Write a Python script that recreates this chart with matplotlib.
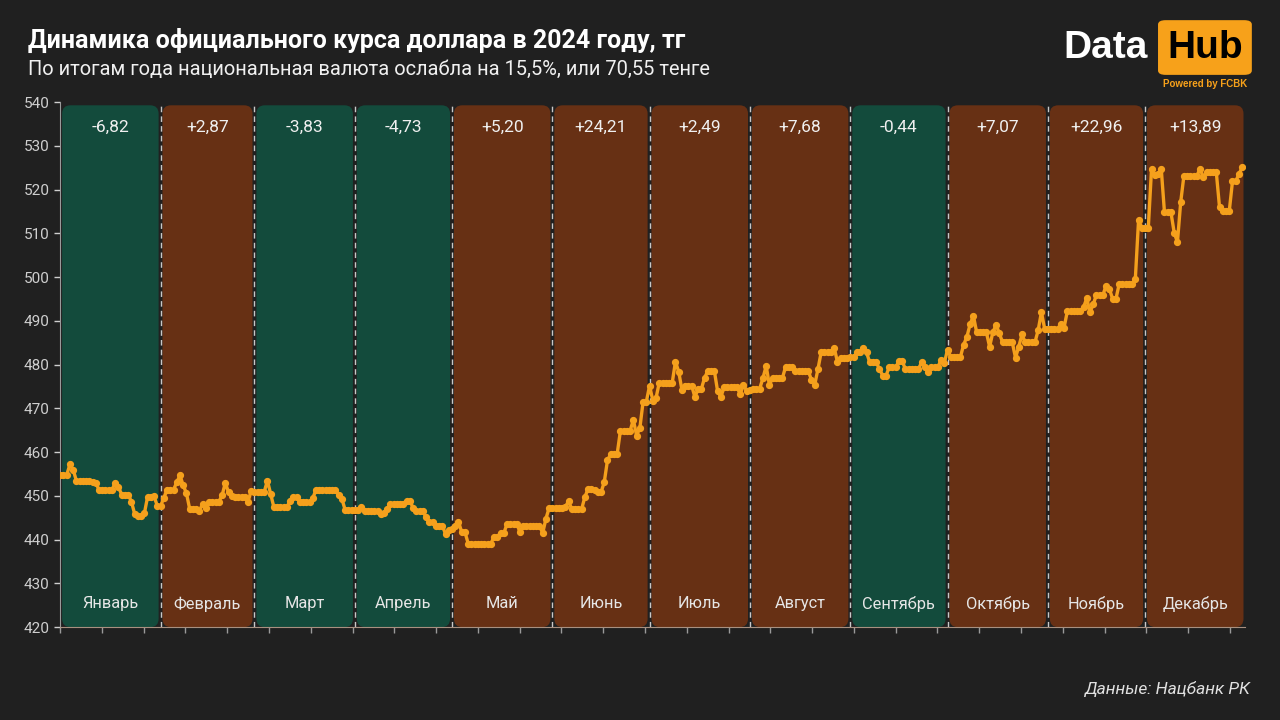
import numpy as np
import matplotlib.pyplot as plt
from matplotlib.patches import FancyBboxPatch
from matplotlib.ticker import MultipleLocator

plt.rcParams['font.family'] = ['Roboto', 'DejaVu Sans']

months = ['Январь', 'Февраль', 'Март', 'Апрель', 'Май', 'Июнь',
          'Июль', 'Август', 'Сентябрь', 'Октябрь', 'Ноябрь', 'Декабрь']
changes = ['-6,82', '+2,87', '-3,83', '-4,73', '+5,20', '+24,21',
           '+2,49', '+7,68', '-0,44', '+7,07', '+22,96', '+13,89']

# daily official USD/KZT rate
jan = [454.7, 454.7, 454.7, 457.2, 456.0, 453.5, 453.5, 453.5, 453.4, 453.3,
       453.2, 453.0, 451.4, 451.4, 451.4, 451.4, 451.4, 453.0, 452.0, 450.3,
       450.3, 450.3, 448.7, 445.9, 445.3, 445.3, 446.0, 449.8, 449.8, 449.9, 447.7]
feb = [447.7, 449.5, 451.4, 451.4, 451.4, 453.1, 454.7, 452.4, 450.6, 447.0,
       447.0, 447.0, 446.6, 448.2, 447.2, 448.5, 448.7, 448.7, 448.7, 450.1,
       453.0, 450.8, 450.0, 449.8, 449.8, 449.8, 449.8, 448.7, 451.2]
mar = [450.8, 450.8, 450.8, 450.9, 453.5, 450.5, 447.4, 447.4, 447.4, 447.4,
       447.4, 448.9, 449.8, 449.8, 448.5, 448.5, 448.5, 448.5, 449.5, 451.4,
       451.4, 451.4, 451.4, 451.4, 451.4, 451.4, 450.2, 449.3, 446.8, 446.8, 446.8]
apr = [446.8, 446.8, 447.5, 446.5, 446.5, 446.5, 446.5, 446.5, 445.9, 446.0,
       447.0, 448.2, 448.2, 448.2, 448.2, 448.2, 448.9, 448.9, 447.2, 446.5,
       446.5, 446.5, 445.1, 444.1, 444.1, 443.2, 443.2, 443.2, 441.3, 442.1]
may = [442.5, 443.2, 444.1, 441.7, 441.7, 439.1, 439.1, 439.1, 439.1, 439.1,
       439.1, 439.1, 439.1, 440.7, 440.7, 441.5, 441.5, 443.6, 443.6, 443.6,
       443.6, 441.7, 443.2, 443.2, 443.2, 443.2, 443.2, 443.2, 441.5, 444.8, 447.3]
jun = [447.3, 447.3, 447.3, 447.3, 447.5, 448.8, 446.9, 446.9, 446.9, 446.9,
       449.7, 451.6, 451.6, 451.3, 450.8, 450.8, 453.1, 458.1, 459.6, 459.6,
       459.6, 464.9, 464.9, 464.9, 464.9, 467.4, 463.8, 465.5, 471.5, 471.5]
jul = [475.2, 471.8, 472.4, 475.9, 475.9, 475.9, 475.9, 475.9, 480.7, 478.4,
       474.2, 475.2, 475.2, 475.2, 472.6, 474.5, 474.5, 477.0, 478.6, 478.6,
       478.6, 474.0, 472.6, 474.8, 474.8, 474.8, 474.8, 474.8, 473.3, 475.4, 474.0]
aug = [474.2, 474.5, 474.5, 474.5, 476.9, 479.7, 475.4, 476.9, 476.9, 476.9,
       476.9, 479.5, 479.5, 479.5, 478.6, 478.6, 478.6, 478.6, 478.6, 476.5,
       475.4, 479.0, 482.9, 482.9, 482.9, 482.9, 483.9, 480.7, 481.6, 481.6, 481.6]
sep = [481.7, 481.7, 482.8, 482.8, 483.8, 482.8, 480.5, 480.5, 480.5, 479.0,
       477.5, 477.5, 479.4, 479.4, 479.4, 480.8, 480.8, 479.0, 479.0, 479.0,
       479.0, 479.0, 480.5, 479.4, 478.4, 479.4, 479.4, 479.4, 481.1, 480.3]
octo = [483.4, 481.8, 481.8, 481.8, 481.8, 484.6, 486.4, 489.3, 491.2, 487.4,
        487.4, 487.4, 487.4, 484.1, 487.4, 489.1, 487.2, 485.1, 485.1, 485.1,
        485.1, 481.6, 484.1, 486.9, 485.1, 485.1, 485.1, 485.1, 487.9, 492.0, 488.2]
nov = [488.1, 488.1, 488.1, 488.1, 489.4, 488.5, 492.2, 492.2, 492.2, 492.2,
       492.2, 493.1, 495.2, 492.0, 493.8, 496.0, 496.0, 496.0, 498.1, 497.3,
       495.0, 495.0, 498.4, 498.4, 498.4, 498.4, 498.4, 499.6, 513.1, 511.2]
dec = [511.2, 511.2, 524.7, 523.4, 523.5, 524.8, 514.8, 514.8, 514.8, 510.2,
       508.0, 517.1, 523.2, 523.2, 523.2, 523.2, 523.2, 524.8, 522.8, 524.0,
       524.0, 524.0, 524.0, 516.0, 515.1, 515.1, 515.1, 521.9, 521.9, 523.6, 525.1]

month_data = [jan, feb, mar, apr, may, jun, jul, aug, sep, octo, nov, dec]
rates = np.array(sum(month_data, []))
x = np.arange(len(rates))
starts = np.concatenate([[0], np.cumsum([len(m) for m in month_data])])

bg = '#202020'
green = '#134b3c'
brown = '#673014'
orange = '#f5a01c'

fig = plt.figure(figsize=(12.8, 7.2), dpi=100, facecolor=bg)
ax = fig.add_axes([0.047, 0.129, 0.926, 0.729], facecolor=bg)
ax.set_xlim(0, starts[-1])
ax.set_ylim(420, 540)

# month bands with rounded corners
aspect = (120 / 525) / (starts[-1] / 1185)
gap = 0.6
for i in range(12):
    x0, x1 = starts[i] + gap, starts[i + 1] - gap
    col = green if changes[i].startswith('-') else brown
    box = FancyBboxPatch((x0, 420), x1 - x0, 539.3 - 420,
                         boxstyle='round,pad=0,rounding_size=2.6',
                         mutation_aspect=aspect, fc=col, ec='none', zorder=1)
    ax.add_patch(box)
    xc = (starts[i] + starts[i + 1]) / 2
    ax.text(xc, 534.2, changes[i], ha='center', va='center', color='#f0f0f0',
            fontsize=12.5, zorder=4)
    ax.text(xc, 425.3, months[i], ha='center', va='center', color='#e6e6e6',
            fontsize=11.8, zorder=4)

for s in starts[1:-1]:
    ax.axvline(s, color='#c8c8c8', lw=1, ls=(0, (4, 3)), zorder=2)

ax.plot(x, rates, color=orange, lw=2.4, marker='o', ms=4.2, zorder=3)

ax.yaxis.set_major_locator(MultipleLocator(10))
ax.xaxis.set_major_locator(MultipleLocator(12.9))
ax.tick_params(axis='x', labelbottom=False, color='#9a9a9a', length=4, width=1)
ax.tick_params(axis='y', colors='#cfcfcf', labelsize=11, length=4, width=1)
for side in ['top', 'right']:
    ax.spines[side].set_visible(False)
ax.spines['left'].set_color('#9a9a9a')
ax.spines['bottom'].set_color('#a89080')

fig.text(0.022, 0.944, 'Динамика официального курса доллара в 2024 году, тг',
         color='white', fontsize=18, fontweight='bold', va='center')
fig.text(0.022, 0.903, 'По итогам года национальная валюта ослабла на 15,5%, или 70,55 тенге',
         color='#f0f0f0', fontsize=14.4, va='center')

# logo
logo_font = ['Liberation Sans', 'DejaVu Sans']
fig.text(0.897, 0.933, 'Data', color='white', fontsize=28, fontweight='bold',
         family=logo_font, ha='right', va='center')
logo = FancyBboxPatch((0.9047, 0.896), 0.0733, 0.076, transform=fig.transFigure,
                      boxstyle='round,pad=0,rounding_size=0.006',
                      fc='#f7a11a', ec='none')
fig.patches.append(logo)
fig.text(0.9413, 0.933, 'Hub', color='black', fontsize=28, fontweight='bold',
         family=logo_font, ha='center', va='center')
fig.text(0.9413, 0.883, 'Powered by FCBK', color='#f7a11a', fontsize=7,
         fontweight='bold', family=logo_font, ha='center', va='center')

fig.text(0.977, 0.043, 'Данные: Нацбанк РК', color='#e0e0e0', fontsize=12.5,
         style='italic', ha='right', va='center')

fig.savefig('out.png', dpi=100, facecolor=bg)
